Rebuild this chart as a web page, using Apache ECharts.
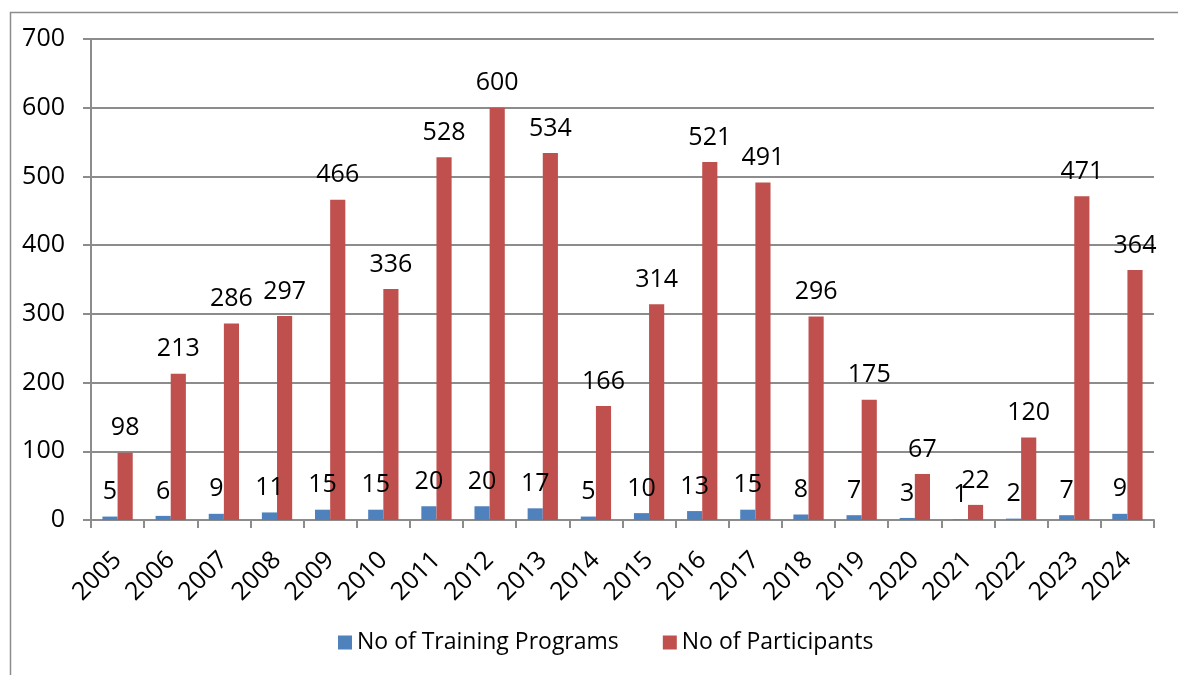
<!DOCTYPE html>
<html>
<head>
<meta charset="utf-8">
<script src="https://cdn.jsdelivr.net/npm/echarts@6/dist/echarts.min.js"></script>
<style>
  html, body { margin: 0; padding: 0; background: #fff; }
  #main { width: 1178px; height: 675px; }
</style>
</head>
<body>
<div id="main"></div>
<script>
// Years on the x axis
const years = ['2005', '2006', '2007', '2008', '2009', '2010', '2011', '2012', '2013', '2014',
  '2015', '2016', '2017', '2018', '2019', '2020', '2021', '2022', '2023', '2024'];

// Values
const trainingPrograms = [5, 6, 9, 11, 15, 15, 20, 20, 17, 5, 10, 13, 15, 8, 7, 3, 1, 2, 7, 9];
const participants = [98, 213, 286, 297, 466, 336, 528, 600, 534, 166, 314, 521, 491, 296, 175, 67, 22, 120, 471, 364];

const font = '"Open Sans", "Noto Sans", sans-serif';
const axisGrey = '#8c8c8c';

const labelStyle = {
  show: true,
  position: 'top',
  distance: 12,
  color: '#000',
  fontSize: 25,
  fontFamily: font
};

const myChart = echarts.init(document.getElementById('main'));

const option = {
  animation: false,
  backgroundColor: '#fff',
  // outer chart frame (only the left and top edges are visible in the picture)
  graphic: [{
    type: 'rect',
    left: 8,
    top: 10,
    shape: { width: 2000, height: 2000 },
    style: { fill: 'none', stroke: axisGrey, lineWidth: 1.5 },
    silent: true
  }],
  grid: {
    left: 91,
    right: 24,
    top: 39,
    bottom: 155
  },
  legend: {
    left: 333,
    top: 626,
    itemWidth: 14,
    itemHeight: 14,
    itemGap: 44,
    icon: 'rect',
    textStyle: { fontSize: 23, fontFamily: font, color: '#000' },
    data: ['No of Training Programs', 'No of Participants']
  },
  xAxis: {
    type: 'category',
    data: years,
    axisLine: { lineStyle: { color: axisGrey, width: 2 } },
    axisTick: { show: true, length: 8, lineStyle: { color: axisGrey, width: 2 } },
    axisLabel: {
      rotate: 45,
      margin: 36,
      color: '#000',
      fontSize: 25,
      fontFamily: font,
      interval: 0
    }
  },
  yAxis: {
    type: 'value',
    min: 0,
    max: 700,
    interval: 100,
    axisLine: { show: true, lineStyle: { color: axisGrey, width: 2 } },
    axisTick: { show: true, length: 8, lineStyle: { color: axisGrey, width: 2 } },
    splitLine: { lineStyle: { color: axisGrey, width: 2 } },
    axisLabel: {
      margin: 26,
      color: '#000',
      fontSize: 25,
      fontFamily: font
    }
  },
  series: [
    {
      name: 'No of Training Programs',
      type: 'bar',
      data: trainingPrograms,
      itemStyle: { color: '#4F81BD' },
      barGap: '0%',
      barCategoryGap: '43%',
      label: labelStyle
    },
    {
      name: 'No of Participants',
      type: 'bar',
      data: participants,
      itemStyle: { color: '#C0504D' },
      barGap: '0%',
      barCategoryGap: '43%',
      label: labelStyle
    }
  ]
};

myChart.setOption(option);
</script>
</body>
</html>
